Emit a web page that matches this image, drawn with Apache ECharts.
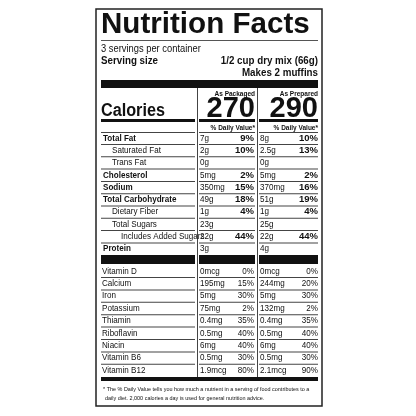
<!DOCTYPE html>
<html>
<head>
<meta charset="utf-8">
<script src="https://cdn.jsdelivr.net/npm/echarts@6/dist/echarts.min.js"></script>
<style>html,body{margin:0;padding:0;background:#fff}#main{width:416px;height:416px}</style>
</head>
<body>
<div id="main"></div>
<script>
// nutrient rows: name, indent, packaged amount, packaged %DV, prepared amount, prepared %DV
var nutrients = ['Total Fat', 'Saturated Fat', 'Trans Fat', 'Cholesterol', 'Sodium', 'Total Carbohydrate', 'Dietary Fiber', 'Total Sugars', 'Includes Added Sugars', 'Protein'];
var nutrientIndent = [0, 1, 1, 0, 0, 0, 1, 1, 2, 0];
var packAmount = ['7g', '2g', '0g', '5mg', '350mg', '49g', '1g', '23g', '22g', '3g'];
var packDV = ['9%', '10%', '', '2%', '15%', '18%', '4%', '', '44%', ''];
var prepAmount = ['8g', '2.5g', '0g', '5mg', '370mg', '51g', '1g', '25g', '22g', '4g'];
var prepDV = ['10%', '13%', '', '2%', '16%', '19%', '4%', '', '44%', ''];

var vitamins = ['Vitamin D', 'Calcium', 'Iron', 'Potassium', 'Thiamin', 'Riboflavin', 'Niacin', 'Vitamin B6', 'Vitamin B12'];
var vitPackAmount = ['0mcg', '195mg', '5mg', '75mg', '0.4mg', '0.5mg', '6mg', '0.5mg', '1.9mcg'];
var vitPackDV = ['0%', '15%', '30%', '2%', '35%', '40%', '40%', '30%', '80%'];
var vitPrepAmount = ['0mcg', '244mg', '5mg', '132mg', '0.4mg', '0.5mg', '6mg', '0.5mg', '2.1mcg'];
var vitPrepDV = ['0%', '20%', '30%', '2%', '35%', '40%', '40%', '30%', '90%'];

var calories = [270, 290];

var F = 'Liberation Sans, Arial, sans-serif';
var els = [];
function txt(x, y, s, size, weight, align, sx) {
  els.push({type: 'text', x: x, y: y, scaleX: sx || 1, style: {x: 0, y: 0, text: s, font: (weight || 'normal') + ' ' + size + 'px ' + F, fill: '#111', textAlign: align || 'left', textVerticalAlign: 'middle'}});
}
function rect(x, y, w, h, c) {
  els.push({type: 'rect', shape: {x: x, y: y, width: w, height: h}, style: {fill: c || '#111'}});
}
var L = 101, C1 = 199, C2 = 259, R = 318;
var N = 0.85; // horizontal squeeze for the condensed label face

els.push({type: 'rect', shape: {x: 96, y: 9, width: 226, height: 397}, style: {fill: 'none', stroke: '#222', lineWidth: 1.5}});
txt(L, 25, 'Nutrition Facts', 29, '900', 'left', 1.02);
rect(L, 40, R - L, 1, '#555');
txt(L, 49, '3 servings per container', 11, 'normal', 'left', N);
txt(L, 61, 'Serving size', 11.5, 'bold', 'left', N);
txt(R, 61, '1/2 cup dry mix (66g)', 11.5, 'bold', 'right', N);
txt(R, 73, 'Makes 2 muffins', 11.5, 'bold', 'right', N);
rect(L, 80, R - L, 8);

rect(C1 - 2, 88, 1, 292, '#444');
rect(C2 - 2, 88, 1, 292, '#444');
txt(C1 + 56, 94, 'As Packaged', 6.5, 'bold', 'right');
txt(R, 94, 'As Prepared', 6.5, 'bold', 'right');
txt(C1 + 56, 109, String(calories[0]), 29, 'bold', 'right');
txt(R, 109, String(calories[1]), 29, 'bold', 'right');
txt(L, 111, 'Calories', 18, 'bold', 'left', 0.9);
rect(L, 119, C1 - L - 4, 3);
rect(C1, 119, C2 - C1 - 4, 3);
rect(C2, 119, R - C2, 3);
txt(C1 + 56, 128, '% Daily Value*', 6.5, 'bold', 'right');
txt(R, 128, '% Daily Value*', 6.5, 'bold', 'right');

function rowLines(y) {
  rect(L, y, C1 - L - 4, 1, '#444');
  rect(C1, y, C2 - C1 - 4, 1, '#444');
  rect(C2, y, R - C2, 1, '#444');
}
rowLines(132);
var y0 = 138, dy = 12.3;
nutrients.forEach(function (n, i) {
  var y = y0 + i * dy;
  var bold = nutrientIndent[i] === 0;
  txt(L + 2 + nutrientIndent[i] * 9, y, n, 9.5, bold ? 'bold' : 'normal', 'left', N);
  txt(C1 + 1, y, packAmount[i], 9.5, 'normal', 'left', N);
  txt(C1 + 55, y, packDV[i], 9.5, 'bold', 'right');
  txt(C2 + 1, y, prepAmount[i], 9.5, 'normal', 'left', N);
  txt(R, y, prepDV[i], 9.5, 'bold', 'right');
  if (i < nutrients.length - 1) rowLines(y + 6);
});
rect(L, 255, C1 - L - 4, 9);
rect(C1, 255, C2 - C1 - 4, 9);
rect(C2, 255, R - C2, 9);

var v0 = 271, vdy = 12.4;
vitamins.forEach(function (n, i) {
  var y = v0 + i * vdy;
  txt(L + 1, y, n, 9.5, 'normal', 'left', N);
  txt(C1 + 1, y, vitPackAmount[i], 9.5, 'normal', 'left', N);
  txt(C1 + 55, y, vitPackDV[i], 9.5, 'normal', 'right', N);
  txt(C2 + 1, y, vitPrepAmount[i], 9.5, 'normal', 'left', N);
  txt(R, y, vitPrepDV[i], 9.5, 'normal', 'right', N);
  if (i < vitamins.length - 1) rowLines(y + 6);
});
rect(L, 377, R - L, 4);
txt(L + 2, 389, '* The % Daily Value tells you how much a nutrient in a serving of food contributes to a', 6.2, 'normal', 'left', 0.88);
txt(L + 4, 398, 'daily diet. 2,000 calories a day is used for general nutrition advice.', 6.2, 'normal', 'left', 0.88);

var chart = echarts.init(document.getElementById('main'));
chart.setOption({backgroundColor: '#fff', graphic: {elements: els}});
</script>
</body>
</html>
